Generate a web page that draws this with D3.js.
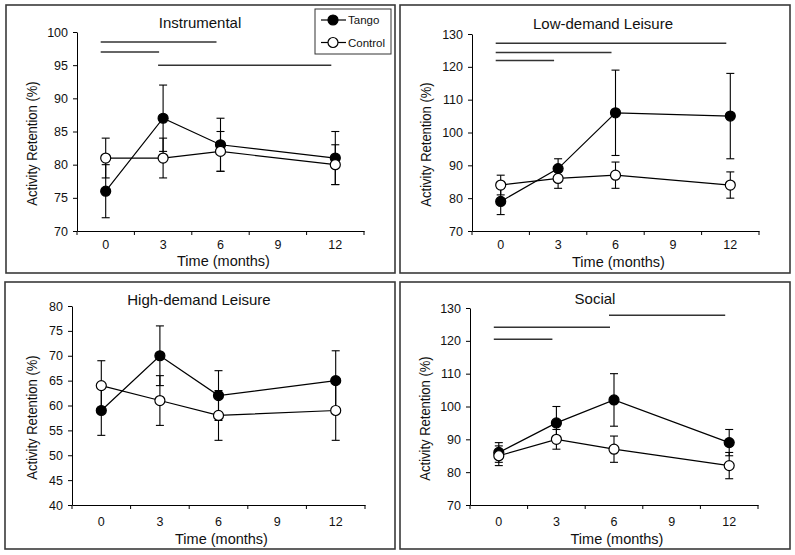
<!DOCTYPE html>
<html>
<head>
<meta charset="utf-8">
<script src="https://cdn.jsdelivr.net/npm/d3@7"></script>
<style>
  html, body { margin: 0; padding: 0; background: #fff; }
  svg { display: block; font-family: "Liberation Sans", Arial, sans-serif; }
</style>
</head>
<body>
<svg id="chart" width="795" height="555"></svg>
<script>
// ---------------- DATA ----------------
const timeLabels = ["0", "3", "6", "9", "12"];
const measuredTimes = ["0", "3", "6", "12"];
const seriesNames = ["Tango", "Control"];
const panelTitles = ["Instrumental", "Low-demand Leisure", "High-demand Leisure", "Social"];
const yAxisTitle = "Activity Retention (%)";
const xAxisTitle = "Time (months)";

// Instrumental
const instrumentalTicks = [70, 75, 80, 85, 90, 95, 100];
const instrumentalTango = [76, 87, 83, 81];
const instrumentalTangoErr = [4, 5, 4, 4];
const instrumentalControl = [81, 81, 82, 80];
const instrumentalControlErr = [3, 3, 3, 3];
const instrumentalSig = [
  { from: "0", to: "6", y: 98.5 },
  { from: "0", to: "3", y: 97.0 },
  { from: "3", to: "12", y: 95.0 }
];

// Low-demand Leisure
const lowDemandTicks = [70, 80, 90, 100, 110, 120, 130];
const lowDemandTango = [79, 89, 106, 105];
const lowDemandTangoErr = [4, 3, 13, 13];
const lowDemandControl = [84, 86, 87, 84];
const lowDemandControlErr = [3, 3, 4, 4];
const lowDemandSig = [
  { from: "0", to: "12", y: 127.2 },
  { from: "0", to: "6", y: 124.4 },
  { from: "0", to: "3", y: 121.9 }
];

// High-demand Leisure
const highDemandTicks = [40, 45, 50, 55, 60, 65, 70, 75, 80];
const highDemandTango = [59, 70, 62, 65];
const highDemandTangoErr = [5, 6, 5, 6];
const highDemandControl = [64, 61, 58, 59];
const highDemandControlErr = [5, 5, 5, 6];
const highDemandSig = [];

// Social
const socialTicks = [70, 80, 90, 100, 110, 120, 130];
const socialTango = [86, 95, 102, 89];
const socialTangoErr = [3, 5, 8, 4];
const socialControl = [85, 90, 87, 82];
const socialControlErr = [3, 3, 4, 4];
const socialSig = [
  { from: "6", to: "12", y: 127.8 },
  { from: "0", to: "6", y: 124.1 },
  { from: "0", to: "3", y: 120.5 }
];

// ---------------- LAYOUT ----------------
const panels = [
  { title: panelTitles[0], ticks: instrumentalTicks, tango: instrumentalTango, tangoErr: instrumentalTangoErr,
    control: instrumentalControl, controlErr: instrumentalControlErr, sig: instrumentalSig, legend: true,
    box: [6, 5, 395, 273], ax: [77, 364], ay: [231, 32], titleX: 200, titleY: 28, yLabX: 37, xLabY: 249, xTitleY: 266 },
  { title: panelTitles[1], ticks: lowDemandTicks, tango: lowDemandTango, tangoErr: lowDemandTangoErr,
    control: lowDemandControl, controlErr: lowDemandControlErr, sig: lowDemandSig, legend: false,
    box: [400, 5, 790, 273], ax: [472, 759], ay: [231, 34], titleX: 603, titleY: 29, yLabX: 431, xLabY: 249, xTitleY: 267 },
  { title: panelTitles[2], ticks: highDemandTicks, tango: highDemandTango, tangoErr: highDemandTangoErr,
    control: highDemandControl, controlErr: highDemandControlErr, sig: highDemandSig, legend: false,
    box: [5, 282, 395, 549], ax: [72, 365], ay: [505, 306], titleX: 199, titleY: 305, yLabX: 37, xLabY: 526, xTitleY: 544 },
  { title: panelTitles[3], ticks: socialTicks, tango: socialTango, tangoErr: socialTangoErr,
    control: socialControl, controlErr: socialControlErr, sig: socialSig, legend: false,
    box: [400, 282, 790, 549], ax: [470, 758], ay: [505, 308], titleX: 595, titleY: 304, yLabX: 430, xLabY: 526, xTitleY: 544 }
];

const svg = d3.select("#chart");
const R = 5;

panels.forEach(p => {
  const g = svg.append("g");
  // panel frame
  g.append("rect")
    .attr("x", p.box[0]).attr("y", p.box[1])
    .attr("width", p.box[2] - p.box[0]).attr("height", p.box[3] - p.box[1])
    .attr("fill", "none").attr("stroke", "#3a3a3a").attr("stroke-width", 1.6);

  const x = d3.scaleBand().domain(timeLabels).range(p.ax).paddingInner(0).paddingOuter(0);
  const cx = d => x(d) + x.bandwidth() / 2;
  const y = d3.scaleLinear().domain([d3.min(p.ticks), d3.max(p.ticks)]).range(p.ay);

  // y axis
  const yAxis = g.append("g").attr("transform", `translate(${p.ax[0]},0)`)
    .call(d3.axisLeft(y).tickValues(p.ticks).tickSize(4).tickSizeOuter(0).tickPadding(5));
  yAxis.selectAll("text").attr("font-size", 12.5).attr("fill", "#111")
    .attr("font-family", "'Liberation Sans', Arial, sans-serif");
  yAxis.selectAll("path,line").attr("stroke", "#000");

  // x axis
  const xAxis = g.append("g").attr("transform", `translate(0,${p.ay[0]})`)
    .call(d3.axisBottom(x).tickSize(0).tickSizeOuter(0).tickPadding(0));
  xAxis.selectAll("text").attr("font-size", 12.5).attr("fill", "#111")
    .attr("dy", null).attr("y", p.xLabY - p.ay[0])
    .attr("font-family", "'Liberation Sans', Arial, sans-serif");
  xAxis.selectAll("path").attr("stroke", "#000");
  // boundary tick marks between categories
  const bounds = timeLabels.map(d => x(d)).concat([p.ax[1]]);
  g.selectAll(null).data(bounds).enter().append("line")
    .attr("x1", d => d).attr("x2", d => d)
    .attr("y1", p.ay[0]).attr("y2", p.ay[0] + 4)
    .attr("stroke", "#000");

  // titles
  g.append("text").attr("x", p.titleX).attr("y", p.titleY)
    .attr("text-anchor", "middle").attr("font-size", 15).attr("fill", "#111").text(p.title);
  g.append("text").attr("x", (p.ax[0] + p.ax[1]) / 2 + 3).attr("y", p.xTitleY)
    .attr("text-anchor", "middle").attr("font-size", 14.5).attr("fill", "#111").text(xAxisTitle);
  const ymid = (p.ay[0] + p.ay[1]) / 2 + 12;
  g.append("text").attr("transform", `translate(${p.yLabX},${ymid}) rotate(-90) scale(0.84,1)`)
    .attr("text-anchor", "middle").attr("font-size", 15.5).attr("fill", "#111").text(yAxisTitle);

  // significance lines
  g.selectAll(null).data(p.sig).enter().append("line")
    .attr("x1", d => cx(d.from) - 5).attr("x2", d => cx(d.to) - 4)
    .attr("y1", d => y(d.y)).attr("y2", d => y(d.y))
    .attr("stroke", "#333").attr("stroke-width", 1.5);

  const series = [
    { name: seriesNames[0], vals: p.tango, errs: p.tangoErr, fill: "#000" },
    { name: seriesNames[1], vals: p.control, errs: p.controlErr, fill: "#fff" }
  ];

  // error bars
  series.forEach(s => {
    const eg = g.append("g");
    measuredTimes.forEach((t, i) => {
      const xx = cx(t), lo = y(s.vals[i] - s.errs[i]), hi = y(s.vals[i] + s.errs[i]);
      eg.append("line").attr("x1", xx).attr("x2", xx).attr("y1", lo).attr("y2", hi)
        .attr("stroke", "#000").attr("stroke-width", 1.1);
      [lo, hi].forEach(yy => eg.append("line").attr("x1", xx - 4).attr("x2", xx + 4)
        .attr("y1", yy).attr("y2", yy).attr("stroke", "#000").attr("stroke-width", 1.1));
    });
  });

  // lines
  const line = d3.line().x((d, i) => cx(measuredTimes[i])).y(d => y(d));
  series.forEach(s => {
    g.append("path").attr("d", line(s.vals)).attr("fill", "none")
      .attr("stroke", "#000").attr("stroke-width", 1.2);
  });

  // markers
  series.forEach(s => {
    g.selectAll(null).data(s.vals).enter().append("circle")
      .attr("cx", (d, i) => cx(measuredTimes[i])).attr("cy", d => y(d))
      .attr("r", R).attr("fill", s.fill).attr("stroke", "#000").attr("stroke-width", 1.2);
  });

  // legend
  if (p.legend) {
    const lg = g.append("g");
    lg.append("rect").attr("x", 315).attr("y", 9).attr("width", 76).attr("height", 45)
      .attr("fill", "#fff").attr("stroke", "#333").attr("stroke-width", 1);
    series.forEach((s, i) => {
      const ly = 20 + i * 22.5;
      lg.append("line").attr("x1", 321).attr("x2", 346).attr("y1", ly).attr("y2", ly)
        .attr("stroke", "#000").attr("stroke-width", 1.2);
      lg.append("circle").attr("cx", 333).attr("cy", ly).attr("r", R)
        .attr("fill", s.fill).attr("stroke", "#000").attr("stroke-width", 1.2);
      lg.append("text").attr("x", 348).attr("y", ly + 4).attr("font-size", 11.5)
        .attr("fill", "#111").text(s.name);
    });
  }
});
</script>
</body>
</html>
